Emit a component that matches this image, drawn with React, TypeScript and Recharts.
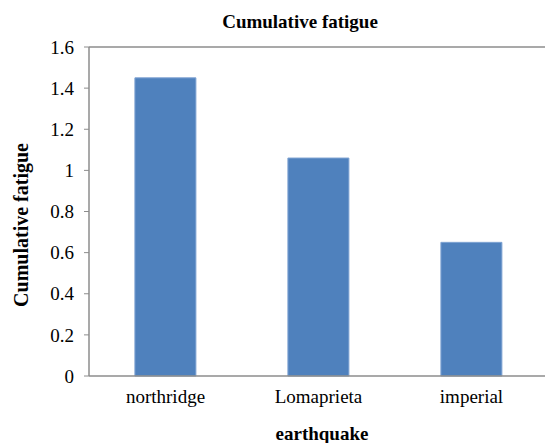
import React from 'react';
import { BarChart, Bar, XAxis, YAxis, ReferenceLine } from 'recharts';

const categories = ['northridge', 'Lomaprieta', 'imperial'];
const fatigue = [1.45, 1.06, 0.65];
const yTicks = [0, 0.2, 0.4, 0.6, 0.8, 1, 1.2, 1.4, 1.6];

const data = categories.map((c, i) => ({ name: c, value: fatigue[i] }));

const FONT = "'Liberation Serif', 'Times New Roman', Times, serif";
const txt = { fontFamily: FONT };

export default function App() {
  return (
    <div style={{ position: 'fixed', left: 0, top: 0, width: 545, height: 443, overflow: 'hidden', background: '#fff', fontFamily: FONT }}>
      <BarChart
        width={560}
        height={443}
        data={data}
        margin={{ top: 47, right: 12, bottom: 0, left: 0 }}
        barCategoryGap="30%"
        style={txt}
      >
        <text x={300} y={28} textAnchor="middle" style={txt} fontSize={19} fontWeight="bold" fill="#000">
          Cumulative fatigue
        </text>
        <text x={322} y={440} textAnchor="middle" style={txt} fontSize={19} fontWeight="bold" fill="#000">
          earthquake
        </text>
        <text
          x={0}
          y={0}
          transform="translate(28, 225) rotate(-90)"
          textAnchor="middle"
          style={txt}
          fontSize={20}
          fontWeight="bold"
          fill="#000"
        >
          Cumulative fatigue
        </text>
        <XAxis
          dataKey="name"
          height={67}
          tickLine={false}
          tickSize={0}
          tickMargin={14}
          axisLine={{ stroke: '#8c8c8c', strokeWidth: 1.5 }}
          tick={{ style: txt, fontSize: 19, fill: '#000' }}
        />
        <YAxis
          width={89}
          domain={[0, 1.6]}
          ticks={yTicks}
          interval={0}
          tickSize={5}
          tickMargin={10}
          tickLine={{ stroke: '#8c8c8c' }}
          axisLine={{ stroke: '#8c8c8c', strokeWidth: 1.5 }}
          tick={{ style: txt, fontSize: 19, fill: '#000' }}
        />
        <ReferenceLine y={1.6} stroke="#8c8c8c" strokeWidth={1.5} />
        <Bar dataKey="value" fill="#4F81BD" stroke="#7FA3D3" strokeWidth={1} isAnimationActive={false} />
      </BarChart>
    </div>
  );
}
